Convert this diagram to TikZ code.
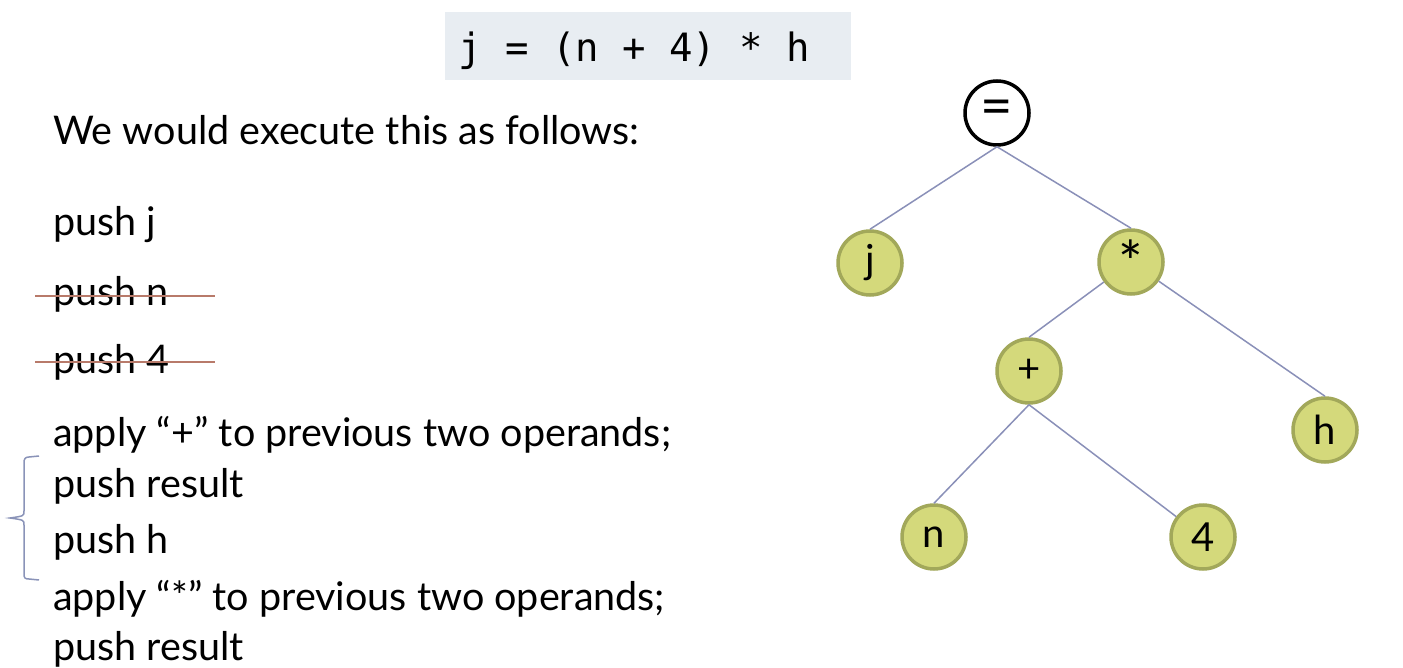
\documentclass[tikz,border=0pt]{standalone}
\usepackage{fontspec}
\setmainfont{Lato}
\setmonofont{DejaVu Sans Mono}
\usepackage{xcolor}
\definecolor{codebg}{RGB}{232,237,242}
\definecolor{leaffill}{RGB}{212,217,123}
\definecolor{leafdraw}{RGB}{162,168,90}
\definecolor{edgecol}{RGB}{138,144,184}
\definecolor{strikecol}{RGB}{184,122,106}
\definecolor{bracecol}{RGB}{138,147,184}
\tikzset{
  stepline/.style={anchor=base west, inner sep=0pt, font=\fontsize{39.5}{44}\selectfont},
  opnode/.style={circle, draw=leafdraw, fill=leaffill, line width=3.5pt, minimum size=64pt, inner sep=0pt, font=\fontsize{40}{44}\selectfont},
  rootnode/.style={opnode, draw=black, fill=white},
  treeedge/.style={edgecol, line width=1.5pt},
}

\begin{document}
\begin{tikzpicture}[x=1pt, y=-1pt]
        \useasboundingbox (0,0) rectangle (1403,668);
        \fill[codebg] (445,12) rectangle (851,80);
        \node[anchor=base west, inner sep=0pt, font=\fontsize{39}{44}\ttfamily] (expr) at (458,62) {j = (n + 4) * h};

        \node[stepline] (intro) at (53,145) {We would execute this as follows:};
        \node[stepline] (pushj) at (53,236) {push j};
        \node[stepline] (pushn) at (53,306) {push n};
        \node[stepline] (push4) at (53,373) {push 4};
        \node[stepline] (applyplus) at (53,446) {apply “+” to previous two operands;};
        \node[stepline] (pushres) at (53,497) {push result};
        \node[stepline] (pushh) at (53,553) {push h};
        \node[stepline] (applytimes) at (53,610) {apply “*” to previous two operands;};
        \node[stepline] (pushres2) at (53,660) {push result};

        \draw[strikecol, line width=1.5pt] (35,296) -- (215,296);
        \draw[strikecol, line width=1.5pt] (35,362) -- (215,362);
        \draw[bracecol, line width=1.5pt] (39,456) -- (29,457) .. controls (25,457) and (24,459) .. (24,463) -- (24,511) .. controls (24,516) .. (10,518) .. controls (24,520) .. (24,525) -- (24,574) .. controls (24,578) and (25,579) .. (29,579) -- (39,580);

        \node[rootnode, font=\fontsize{56}{60}\selectfont] (eq) at (997,113) {=};
        \node[opnode] (j) at (870,263) {j};
        \node[opnode, font=\fontsize{58}{60}\selectfont] (times) at (1131,262) {*};
        \node[opnode] (plus) at (1029,371) {+};
        \node[opnode] (h) at (1325,430) {h};
        \node[opnode] (n) at (934,537) {n};
        \node[opnode] (four) at (1203,537) {4};

        \draw[treeedge] (eq.south) -- (j.north);
        \draw[treeedge] (eq.south) -- (times.north);
        \draw[treeedge] (times) -- (plus.north);
        \draw[treeedge] (times) -- (h.north);
        \draw[treeedge] (plus.south) -- (n.north);
        \draw[treeedge] (plus.south) -- (four);
    \end{tikzpicture}
\end{document}
